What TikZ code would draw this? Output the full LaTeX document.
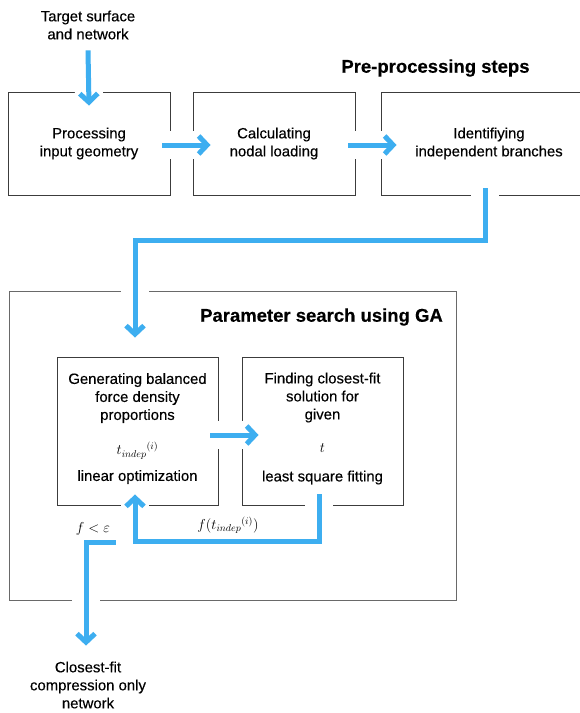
\documentclass[tikz,border=0pt]{standalone}
\usepackage{fontspec}
\setmainfont[FakeBold=0.3]{Liberation Sans}
\usetikzlibrary{arrows.meta,calc}

\definecolor{flowblue}{RGB}{61,174,240}
\definecolor{framegrey}{RGB}{60,60,60}
\definecolor{outergrey}{RGB}{105,105,105}

\begin{document}
\begin{tikzpicture}[x=1pt,y=1pt,yscale=-1,xscale=1,
		every node/.style={font=\fontsize{14.9}{18}\selectfont, inner sep=0.75pt},
		stepbox/.style={draw=framegrey, line width=0.9pt, rectangle, minimum width=162pt, minimum height=103pt, align=center},
		flow/.style={draw=flowblue, line width=5pt, -{Straight Barb[length=8.5pt,width=18pt]}, preaction={draw=white, line width=28pt, -}},
		heading/.style={font=\fontsize{18.5}{22}\selectfont\bfseries}]
		\useasboundingbox (0,0) rectangle (580,713);
		\clip (0,0) rectangle (580,713);
		
		% Text Node
		\node [align=center] (src) at (88,25) {Target surface\\and network};
		
		%Shape: Rectangle
		\node [stepbox] (geom) at (89,143.5) {Processing\\input geometry};
		%Shape: Rectangle
		\node [stepbox] (load) at (274,143.5) {Calculating\\nodal loading};
		%Shape: Rectangle
		\node [stepbox, minimum width=216pt] (branch) at (489,143.5) {Identifiying\\independent branches};
		% Text Node
		\node [heading] (prehead) at (435.5,68) {Pre-processing steps};
		
		%Shape: Rectangle
		\node [stepbox, draw=outergrey, minimum width=447pt, minimum height=309pt] (ga) at (232.5,445.5) {};
		% Text Node
		\node [heading] (gahead) at (321.5,317) {Parameter search using GA};
		
		%Shape: Rectangle
		\node [stepbox, minimum width=161pt, minimum height=148pt] (gen) at (137.5,431) {Generating balanced\\force density\\proportions\\[17pt]$t_{indep}{}^{(i)}$\\[8pt]linear optimization\\[-10pt]};
		%Shape: Rectangle
		\node [stepbox, minimum width=161pt, minimum height=148pt] (fit) at (322.5,431) {Finding closest-fit\\solution for\\given\\[15pt]$t$\\[11pt]least square fitting\\[-10pt]};
		
		% Text Node
		\node [align=center] (result) at (88,685) {Closest-fit\\compression only\\network};
		
		% Connection
		\draw [flow] ($(src.south)+(0,10)$) -- ($(geom.north)+(0,14)$);
		% Connection
		\draw [flow] ($(geom.east)+(-8,1.5)$) -- ($(load.west)+(18,1.5)$);
		% Connection
		\draw [flow] ($(load.east)+(-7,1.5)$) -- ($(branch.west)+(16,1.5)$);
		% Connection
		\draw [flow] ($(branch.south)+(-4,-7)$) -- ++(0,52) -| ($(gen.north)+(-2.5,-19)$);
		% Connection
		\draw [flow] ($(gen.east)+(-8,4)$) -- ($(fit.west)+(17,4)$);
		% Connection
		\draw [flow] ($(fit.south)+(-3.5,-11)$) -- ++(0,47) -| ($(gen.south)+(-2.5,-11)$);
		% Connection
		\draw [flow] ($(gen.south west)+(59,37)$) -| ($(result.north)+(-2,-15)$);
		
		% Text Node
		\node (conv) at (93,529) {$f<\varepsilon$};
		% Text Node
		\node (fval) at (228,525) {$f(t_{indep}{}^{(i)})$};
	\end{tikzpicture}
\end{document}
